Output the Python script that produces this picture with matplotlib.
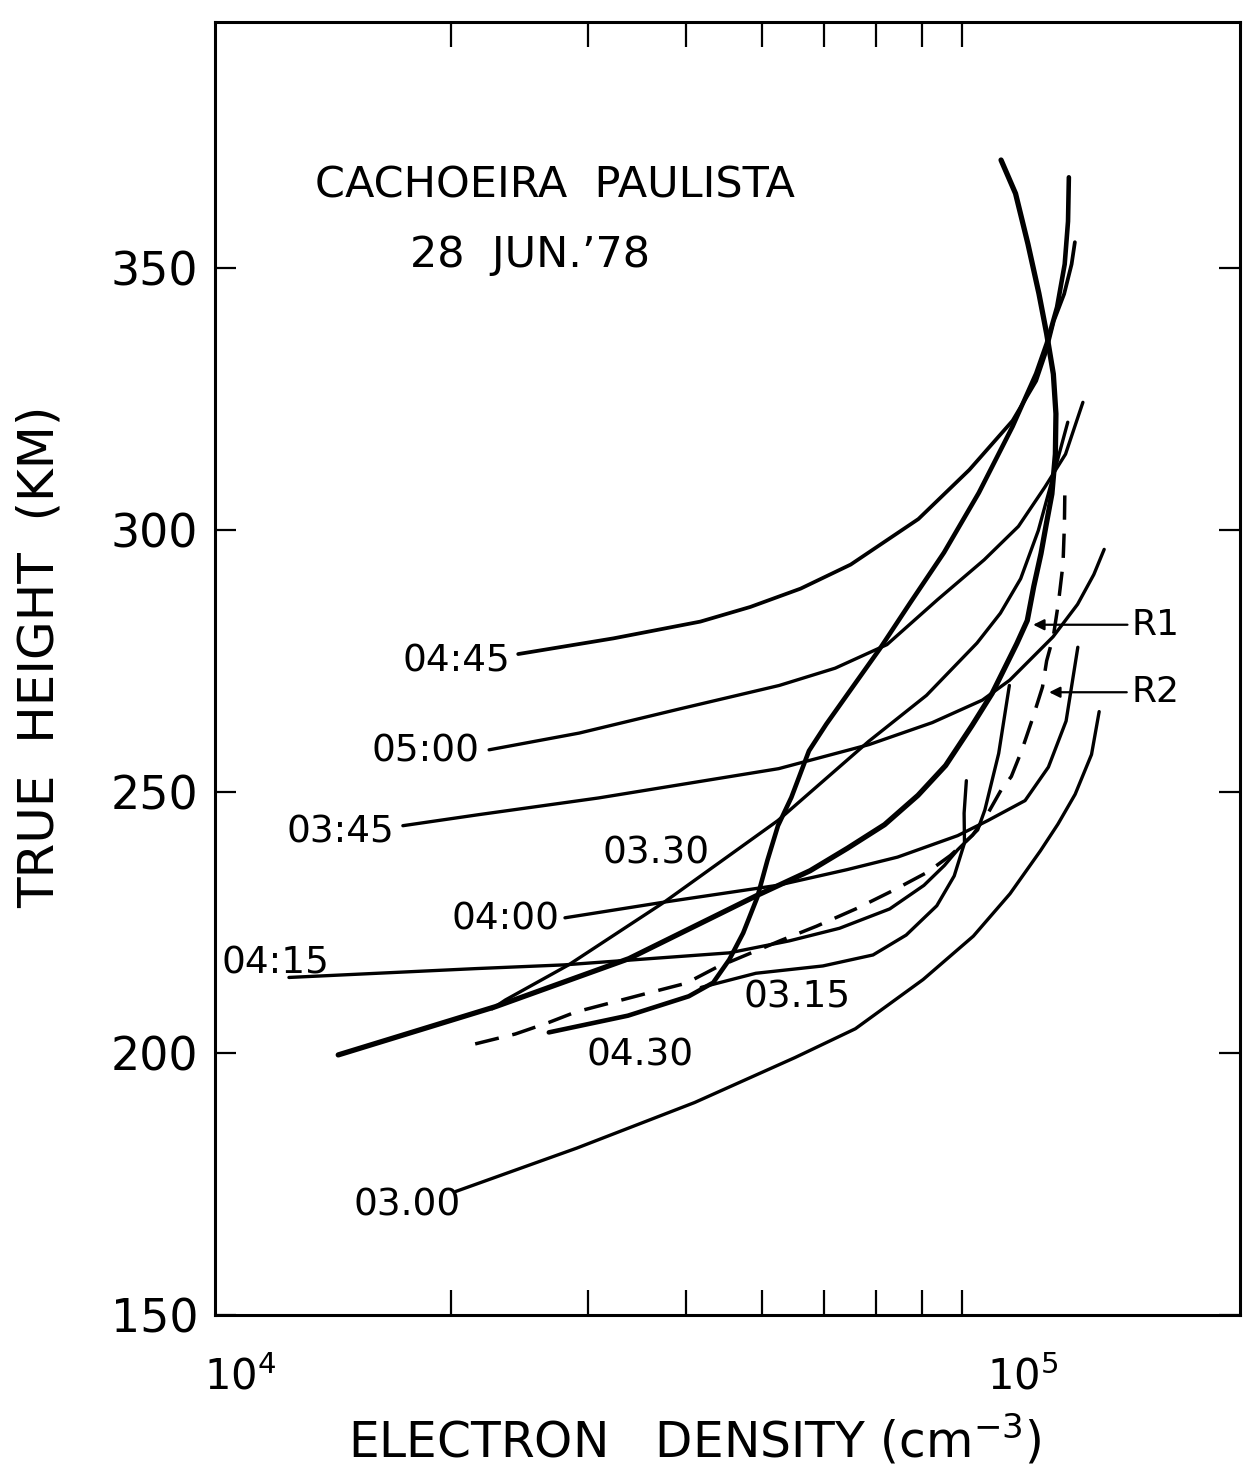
import matplotlib
matplotlib.use("Agg")
import matplotlib.pyplot as plt
from matplotlib.transforms import ScaledTranslation

# electron density (cm^-3) vs true height (km), one profile per local time
t0300_n = [2.03e4, 2.90e4, 4.10e4, 5.51e4, 6.58e4, 8.03e4, 9.31e4, 1.037e5, 1.134e5, 1.194e5, 1.256e5, 1.318e5, 1.348e5]
t0300_h = [173.6, 181.9, 190.6, 199.2, 204.7, 214.1, 222.4, 230.5, 238.7, 243.8, 249.5, 257.1, 265.3]

t0315_n = [4.18e4, 4.91e4, 5.98e4, 6.93e4, 7.64e4, 8.36e4, 8.80e4, 9.07e4, 9.06e4, 9.12e4]
t0315_h = [212.6, 215.3, 216.7, 218.8, 222.6, 228.2, 233.9, 240.2, 245.9, 252.1]

t0330_n = [2.26e4, 2.35e4, 2.83e4, 3.75e4, 5.24e4, 6.84e4, 8.11e4, 9.41e4, 1.008e5, 1.070e5, 1.127e5, 1.173e5, 1.229e5]
t0330_h = [208.5, 210.2, 216.9, 228.9, 244.5, 259.6, 268.4, 278.4, 284.1, 290.7, 299.9, 309.4, 320.6]

t0345_n = [1.738e4, 2.17e4, 3.09e4, 5.25e4, 6.85e4, 8.25e4, 9.56e4, 1.036e5, 1.177e5, 1.265e5, 1.327e5, 1.368e5]
t0345_h = [243.5, 245.6, 248.8, 254.4, 259.0, 263.2, 267.5, 271.3, 279.6, 285.8, 291.5, 296.3]

t0400_n = [2.80e4, 3.75e4, 5.23e4, 6.42e4, 7.45e4, 8.89e4, 9.72e4, 1.084e5, 1.161e5, 1.223e5, 1.246e5, 1.266e5]
t0400_h = [225.9, 228.9, 232.1, 235.1, 237.5, 241.6, 244.5, 248.3, 254.7, 263.5, 271.1, 277.6]

t0415_n = [1.243e4, 2.16e4, 2.79e4, 4.54e4, 5.42e4, 6.28e4, 7.28e4, 8.05e4, 8.55e4, 8.89e4, 9.43e4, 9.63e4, 1.003e5, 1.035e5]
t0415_h = [214.5, 216.2, 216.9, 219.2, 221.5, 223.9, 227.6, 232.1, 235.9, 238.9, 242.7, 246.5, 257.3, 270.3]

t0430_n = [2.67e4, 3.37e4, 4.03e4, 4.33e4, 4.54e4, 4.73e4, 4.93e4, 5.08e4, 5.24e4, 5.45e4, 5.74e4, 6.04e4,
           6.47e4, 7.07e4, 7.74e4, 8.54e4, 9.46e4, 1.045e5, 1.120e5, 1.155e5, 1.191e5, 1.218e5, 1.230e5, 1.233e5]
t0430_h = [204.0, 207.2, 210.9, 213.5, 217.9, 223.0, 229.8, 236.9, 243.5, 248.9, 257.8, 262.9,
           269.2, 277.3, 286.2, 295.7, 307.1, 319.8, 329.9, 335.6, 342.6, 350.8, 359.0, 367.4]

t0445_n = [2.44e4, 3.23e4, 4.17e4, 4.83e4, 5.60e4, 6.49e4, 7.92e4, 9.20e4, 1.045e5, 1.120e5, 1.154e5, 1.180e5, 1.216e5, 1.243e5, 1.255e5]
t0445_h = [276.3, 279.3, 282.5, 285.3, 288.8, 293.4, 302.1, 311.5, 320.9, 328.5, 334.2, 340.0, 345.1, 350.8, 355.0]

t0500_n = [2.24e4, 2.92e4, 3.92e4, 5.26e4, 6.20e4, 7.22e4, 8.38e4, 9.61e4, 1.063e5, 1.149e5, 1.221e5, 1.285e5]
t0500_h = [258.0, 261.2, 265.8, 270.3, 273.6, 278.1, 286.7, 294.3, 300.7, 308.2, 314.5, 324.4]

# reference profiles
r1_n = [1.437e4, 2.28e4, 3.38e4, 4.93e4, 5.76e4, 6.43e4, 7.17e4, 7.91e4, 8.58e4, 9.27e4, 9.84e4, 1.058e5, 1.091e5,
        1.112e5, 1.136e5, 1.154e5, 1.173e5, 1.185e5, 1.187e5, 1.178e5, 1.155e5, 1.129e5, 1.093e5, 1.054e5, 1.010e5]
r1_h = [199.7, 208.9, 218.1, 230.2, 234.9, 239.2, 243.7, 249.3, 255.0, 262.6, 268.8, 278.3, 282.7,
        289.2, 295.5, 301.2, 306.9, 314.5, 322.2, 329.8, 337.5, 345.2, 354.7, 364.3, 370.7]

r2_n = [2.15e4, 2.42e4, 2.67e4, 2.89e4, 3.55e4, 4.00e4, 4.37e4, 5.29e4, 5.87e4, 6.61e4, 7.37e4, 8.13e4, 8.70e4,
        9.29e4, 9.72e4, 1.010e5, 1.041e5, 1.073e5, 1.106e5, 1.141e5, 1.155e5, 1.178e5, 1.196e5, 1.212e5, 1.217e5, 1.219e5]
r2_h = [201.8, 203.7, 205.9, 207.9, 211.4, 213.4, 216.4, 221.6, 224.3, 227.7, 231.2, 234.6, 237.8,
        241.7, 245.9, 250.3, 252.9, 257.8, 263.6, 270.0, 275.0, 279.7, 286.2, 293.5, 301.1, 309.2]

# arrows pointing at the reference profiles: (tip density, tail density, height)
r1_arrow = (1.101e5, 1.477e5, 281.9)
r2_arrow = (1.154e5, 1.474e5, 269.0)

height_ticks = [150, 200, 250, 300, 350]
density_minor = [2e4, 3e4, 4e4, 5e4, 6e4, 7e4, 8e4, 9e4]

W, H = 1246, 1470
fig = plt.figure(figsize=(W / 100, H / 100), dpi=100)
ax = fig.add_axes([215 / W, 1 - 1315 / H, 1025 / W, 1292.6 / H])


def px(x, y):
    return x / W, 1 - y / H


ax.set_xscale("log")
ax.set_xlim(1e4, 2.04e5)
ax.set_ylim(150, 397)

thin = 2.4
for n, h, lw in [(t0300_n, t0300_h, thin), (t0315_n, t0315_h, thin), (t0330_n, t0330_h, thin),
                 (t0345_n, t0345_h, thin), (t0400_n, t0400_h, thin), (t0415_n, t0415_h, thin),
                 (t0430_n, t0430_h, 3.3), (t0445_n, t0445_h, 2.7), (t0500_n, t0500_h, thin),
                 (r1_n, r1_h, 3.8)]:
    ax.plot(n, h, color="black", lw=lw, solid_capstyle="round", solid_joinstyle="round")
ax.plot(r2_n, r2_h, color="black", lw=2.5, ls=(0, (7, 4)))

for (tip, tail, hh), name in [(r1_arrow, "R1"), (r2_arrow, "R2")]:
    ax.annotate("", xy=(tip, hh), xytext=(tail, hh),
                arrowprops=dict(arrowstyle="-|>", color="black", lw=1.6, mutation_scale=16))
    ax.text(tail * 1.005, hh, name, fontsize=26, va="center", ha="left")

# axes frame and ticks
for sp in ax.spines.values():
    sp.set_linewidth(2.2)
ax.set_yticks(height_ticks)
ax.set_yticklabels([str(v) for v in height_ticks])
ax.tick_params(axis="y", which="major", direction="in", length=15, width=1.6,
               left=True, right=True, labelsize=33, pad=12)
ax.set_xticks([1e4, 1e5])
ax.set_xticklabels([r"$10^4$", r"$10^5$"])
ax.set_xticks(density_minor, minor=True)
ax.set_xticklabels([], minor=True)
ax.tick_params(axis="x", which="major", length=0, labelsize=30, pad=30)
ax.tick_params(axis="x", which="minor", direction="in", length=18, width=1.6,
               top=True, bottom=True)
for lab in ax.get_xticklabels():
    lab.set_transform(lab.get_transform() + ScaledTranslation(18 / 72, 0, fig.dpi_scale_trans))

fig.text(*px(40, 657), "TRUE  HEIGHT  (KM)", rotation=90, fontsize=36, ha="center", va="center")
fig.text(*px(695, 1440), r"ELECTRON   DENSITY (cm$^{-3}$)", fontsize=35, ha="center", va="center")

fig.text(*px(555, 186), "CACHOEIRA  PAULISTA", fontsize=31, ha="center", va="center")
fig.text(*px(530, 255), "28  JUN.’78", fontsize=31, ha="center", va="center")

# time labels next to the profiles
for label, x, y in [("04:45", 456, 662), ("05:00", 426, 752), ("03:45", 340, 832),
                    ("03.30", 656, 853), ("04:00", 505, 920), ("04:15", 275, 964),
                    ("03.15", 797, 997), ("04.30", 640, 1055), ("03.00", 407, 1205)]:
    fig.text(*px(x, y), label, fontsize=27, ha="center", va="center")

fig.savefig("out.png", dpi=100, facecolor="white")
